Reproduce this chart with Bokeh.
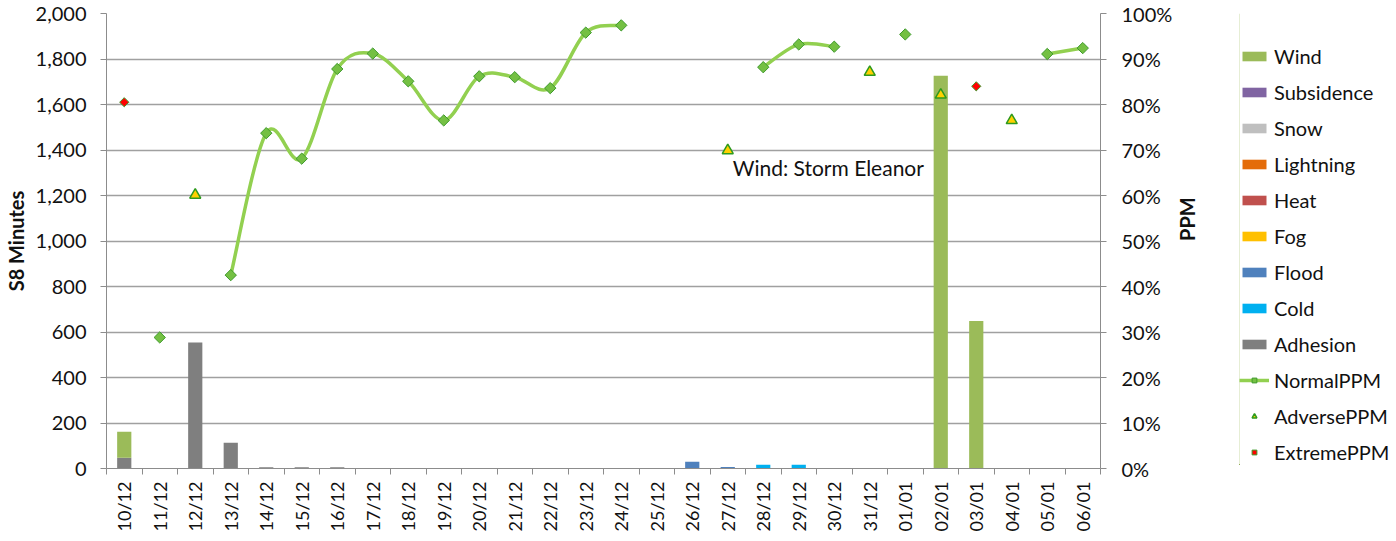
import math
from bokeh.plotting import figure
from bokeh.layouts import row
from bokeh.models import (Range1d, LinearAxis, FixedTicker, NumeralTickFormatter,
                          Legend, LegendItem, Label)
from bokeh.embed import file_html
from bokeh.resources import INLINE

# ---------------- data ----------------
dates = ["10/12", "11/12", "12/12", "13/12", "14/12", "15/12", "16/12", "17/12",
         "18/12", "19/12", "20/12", "21/12", "22/12", "23/12", "24/12", "25/12",
         "26/12", "27/12", "28/12", "29/12", "30/12", "31/12", "01/01", "02/01",
         "03/01", "04/01", "05/01", "06/01"]

wind       = [114, 0, 0, 0, 0, 0, 0, 0, 0, 0, 0, 0, 0, 0, 0, 0, 0, 0, 0, 0, 0, 0, 0, 1726, 648, 0, 0, 0]
subsidence = [0] * 28
snow       = [0] * 28
lightning  = [0] * 28
heat       = [0] * 28
fog        = [0] * 28
flood      = [0, 0, 0, 0, 0, 0, 0, 0, 0, 0, 0, 0, 0, 0, 0, 0, 30, 7, 0, 0, 0, 0, 0, 0, 0, 0, 0, 0]
cold       = [0, 0, 0, 0, 0, 0, 0, 0, 0, 0, 0, 0, 0, 0, 0, 0, 0, 0, 17, 17, 0, 0, 0, 0, 0, 0, 0, 0]
adhesion   = [47, 0, 554, 113, 5, 5, 5, 0, 0, 0, 0, 0, 0, 0, 0, 0, 0, 0, 0, 0, 0, 0, 0, 0, 0, 0, 0, 0]

normal_ppm = [None, 0.288, None, 0.425, 0.737, 0.681, 0.878, 0.912, 0.851, 0.765,
              0.862, 0.860, 0.836, 0.958, 0.974, None, None, None, 0.882, 0.932,
              0.927, None, 0.954, None, None, None, 0.911, 0.924]
adverse_ppm = [None, None, 0.601, None, None, None, None, None, None, None,
               None, None, None, None, None, None, None, 0.699, None, None,
               None, 0.871, None, 0.821, None, 0.765, None, None]
extreme_ppm = [0.805, None, None, None, None, None, None, None, None, None,
               None, None, None, None, None, None, None, None, None, None,
               None, None, None, None, 0.840, None, None, None]

left_ticks = [0, 200, 400, 600, 800, 1000, 1200, 1400, 1600, 1800, 2000]
right_ticks = [0.0, 0.1, 0.2, 0.3, 0.4, 0.5, 0.6, 0.7, 0.8, 0.9, 1.0]

annotation_text = "Wind: Storm Eleanor"
annotation_date = "27/12"
annotation_value = 1323

# ---------------- styles ----------------
FONT = "Lato"
FS = "20px"
TXT = "#111111"
GRID = "#a0a0a0"
AXIS = "#8c8c8c"
LINE_GREEN = "#92D050"
MARK_FILL = "#74C043"
MARK_LINE = "#3E9A2C"
TRI_FILL = "#FFD000"
TRI_LINE = "#2E9A1E"

stack_names = ["Adhesion", "Cold", "Flood", "Fog", "Heat", "Lightning", "Snow", "Subsidence", "Wind"]
stack_vals = [adhesion, cold, flood, fog, heat, lightning, snow, subsidence, wind]
stack_colors = ["#7F7F7F", "#00B0F0", "#4F81BD", "#FFC000", "#C0504D", "#E46C0A",
                "#BFBFBF", "#8064A2", "#9BBB59"]

n = len(dates)
xs = list(range(n))

TOP, BOTTOM, FRAME_H = 13, 62, 455

p = figure(frame_width=994, frame_height=FRAME_H,
           x_range=Range1d(-0.5, n - 0.5), y_range=Range1d(0, 2000),
           output_backend="svg", toolbar_location=None,
           min_border_left=106, min_border_right=112, min_border_top=TOP,
           min_border_bottom=BOTTOM,
           background_fill_color="white", border_fill_color="white")
p.outline_line_color = None
p.extra_y_ranges = {"ppm": Range1d(0, 1)}

# grid
p.xgrid.visible = False
p.ygrid.ticker = FixedTicker(ticks=left_ticks)
p.ygrid.grid_line_color = GRID
p.ygrid.grid_line_width = 1.3

# left axis
ya = p.yaxis[0]
ya.ticker = FixedTicker(ticks=left_ticks)
ya.formatter = NumeralTickFormatter(format="0,0")
ya.axis_label = "S8 Minutes"
ya.axis_label_text_font = FONT
ya.axis_label_text_font_size = FS
ya.axis_label_text_font_style = "bold"
ya.axis_label_text_color = TXT
ya.axis_label_standoff = 5
ya.major_label_text_font = FONT
ya.major_label_text_font_size = FS
ya.major_label_text_color = TXT
ya.major_label_standoff = 14
ya.major_tick_out = 6
ya.major_tick_in = 0
ya.minor_tick_line_color = None
ya.major_tick_line_color = AXIS
ya.axis_line_color = AXIS

# right axis
ra = LinearAxis(y_range_name="ppm", ticker=FixedTicker(ticks=right_ticks),
                formatter=NumeralTickFormatter(format="0%"))
ra.axis_label = "PPM"
ra.axis_label_text_font = FONT
ra.axis_label_text_font_size = FS
ra.axis_label_text_font_style = "bold"
ra.axis_label_text_color = TXT
ra.axis_label_standoff = 12
if "axis_label_orientation" in ra.properties():
    ra.axis_label_orientation = math.pi / 2
ra.major_label_text_font = FONT
ra.major_label_text_font_size = FS
ra.major_label_text_color = TXT
ra.major_label_standoff = 15
ra.major_tick_out = 6
ra.major_tick_in = 0
ra.minor_tick_line_color = None
ra.major_tick_line_color = AXIS
ra.axis_line_color = AXIS
p.add_layout(ra, "right")

# bottom axis
xa = p.xaxis[0]
xa.ticker = FixedTicker(ticks=xs, minor_ticks=[i - 0.5 for i in range(n + 1)])
xa.major_label_overrides = {i: d for i, d in enumerate(dates)}
xa.major_label_orientation = math.pi / 2
xa.major_label_text_font = FONT
xa.major_label_text_font_size = "18px"
xa.major_label_text_color = TXT
xa.major_label_standoff = 7
xa.major_tick_line_color = None
xa.major_tick_out = 0
xa.major_tick_in = 0
xa.minor_tick_out = 6
xa.minor_tick_in = 0
xa.minor_tick_line_color = AXIS
xa.axis_line_color = AXIS

# stacked bars
data = {"x": xs}
for name, vals in zip(stack_names, stack_vals):
    data[name] = vals
p.vbar_stack(stack_names, x="x", width=0.4, color=stack_colors, source=data, line_color=None)

# smoothed NormalPPM line (Bezier segments through consecutive points)
runs, cur = [], []
for i, v in enumerate(normal_ppm):
    if v is None:
        if cur:
            runs.append(cur)
        cur = []
    else:
        cur.append(i)
if cur:
    runs.append(cur)

bz = dict(x0=[], y0=[], x1=[], y1=[], cx0=[], cy0=[], cx1=[], cy1=[])
for run in runs:
    m = len(run)
    for k in range(m - 1):
        i0 = run[max(k - 1, 0)]
        i1 = run[k]
        i2 = run[k + 1]
        i3 = run[min(k + 2, m - 1)]
        y0, y1, y2, y3 = normal_ppm[i0], normal_ppm[i1], normal_ppm[i2], normal_ppm[i3]
        bz["x0"].append(i1)
        bz["y0"].append(y1)
        bz["x1"].append(i2)
        bz["y1"].append(y2)
        bz["cx0"].append(i1 + (i2 - i0) / 6.0)
        bz["cy0"].append(y1 + (y2 - y0) / 6.0)
        bz["cx1"].append(i2 - (i3 - i1) / 6.0)
        bz["cy1"].append(y2 - (y3 - y1) / 6.0)
p.bezier(source=bz, x0="x0", y0="y0", x1="x1", y1="y1", cx0="cx0", cy0="cy0",
         cx1="cx1", cy1="cy1", y_range_name="ppm", line_color=LINE_GREEN, line_width=3.5)

nx = [i for i, v in enumerate(normal_ppm) if v is not None]
ny = [v for v in normal_ppm if v is not None]
p.scatter(nx, ny, y_range_name="ppm", marker="square", angle=math.pi / 4,
          size=8, fill_color=MARK_FILL, line_color=MARK_LINE, line_width=1)

ax_ = [i for i, v in enumerate(adverse_ppm) if v is not None]
ay_ = [v for v in adverse_ppm if v is not None]
p.scatter(ax_, ay_, y_range_name="ppm", marker="triangle", size=11,
          fill_color=TRI_FILL, line_color=TRI_LINE, line_width=1.5)

ex = [i for i, v in enumerate(extreme_ppm) if v is not None]
ey = [v for v in extreme_ppm if v is not None]
p.scatter(ex, ey, y_range_name="ppm", marker="square", angle=math.pi / 4,
          size=6.5, fill_color="#FF0000", line_color=MARK_LINE, line_width=1)

# annotation
p.add_layout(Label(x=dates.index(annotation_date) + 0.14, y=annotation_value,
                   text=annotation_text, text_font=FONT, text_font_size="21px",
                   text_color=TXT, text_baseline="middle", text_align="left"))

# ---------------- legend panel (same series, drawn outside its visible range) ----------------
p2 = figure(width=182, height=TOP + FRAME_H + BOTTOM, output_backend="svg",
            toolbar_location=None, x_axis_location=None, y_axis_location=None,
            x_range=Range1d(1000, 1001), y_range=Range1d(1000, 1001),
            min_border_left=25, min_border_right=0, min_border_top=TOP,
            min_border_bottom=BOTTOM,
            background_fill_color="white", border_fill_color="white")
p2.grid.visible = False
p2.outline_line_color = None
p2.extra_y_ranges = {"ppm": Range1d(1000, 1001)}

lbars = p2.vbar_stack(stack_names, x="x", width=0.4, color=stack_colors, source=data,
                      line_color=None)
lbar_by_name = dict(zip(stack_names, lbars))
l_line = p2.line(nx, ny, y_range_name="ppm", line_color=LINE_GREEN, line_width=3.5)
l_norm = p2.scatter(nx, ny, y_range_name="ppm", marker="square", angle=math.pi / 4,
                    size=8, fill_color=MARK_FILL, line_color=MARK_LINE, line_width=1)
l_adv = p2.scatter(ax_, ay_, y_range_name="ppm", marker="triangle", size=11,
                   fill_color=TRI_FILL, line_color=TRI_LINE, line_width=1.5)
l_ext = p2.scatter(ex, ey, y_range_name="ppm", marker="square", angle=math.pi / 4,
                   size=6.5, fill_color="#FF0000", line_color=MARK_LINE, line_width=1)

legend_order = ["Wind", "Subsidence", "Snow", "Lightning", "Heat", "Fog", "Flood", "Cold", "Adhesion"]
items = [LegendItem(label=nm, renderers=[lbar_by_name[nm]]) for nm in legend_order]
items.append(LegendItem(label="NormalPPM", renderers=[l_line, l_norm]))
items.append(LegendItem(label="AdversePPM", renderers=[l_adv]))
items.append(LegendItem(label="ExtremePPM", renderers=[l_ext]))

leg = Legend(items=items, location="bottom_left", orientation="vertical", ncols=1,
             glyph_width=30, glyph_height=12, label_height=24, label_standoff=5,
             spacing=12, padding=0, margin=0,
             label_text_font=FONT, label_text_font_size=FS, label_text_color=TXT,
             border_line_color=None, background_fill_alpha=0)
p2.add_layout(leg)

layout = row(p, p2)
open("out.html", "w").write(file_html(layout, INLINE))
